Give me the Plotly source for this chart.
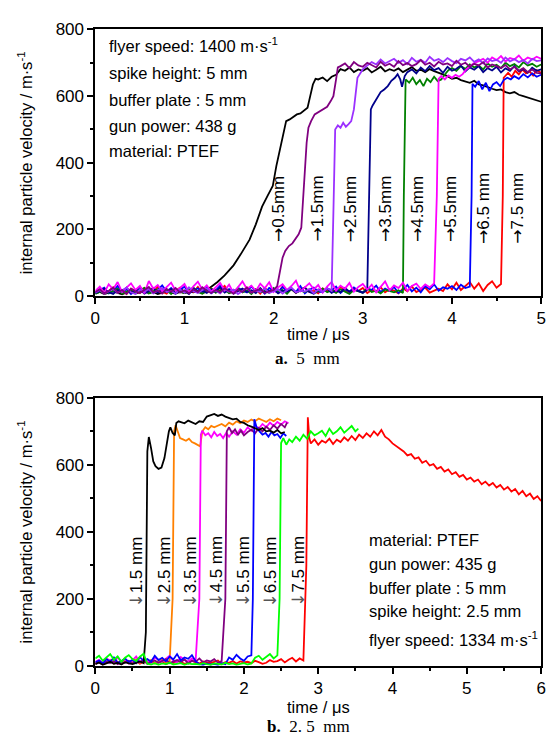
import plotly.graph_objects as go

W, H = 553, 745
DT = 0.05  # sampling step of the typed baseline / plateau readings (µs)

# ================= panel a: spike height 5 mm =================
a_black_base = [8,12,6,10,14,9,5,11,13,7,10,15,8,12,6,9,14,10,7,12,9,13,11,15,16]
a_black_rise_t = [1.25,1.3,1.37,1.45,1.55,1.63,1.73,1.8,1.87,1.93,1.99,2.03,2.07,2.11,2.14,2.18,2.22,2.26,2.3,2.34,2.38,2.41,2.44,2.47]
a_black_rise_v = [18,28,42,62,92,125,169,215,268,300,330,390,440,490,525,530,538,545,548,556,565,600,635,652]
a_black_plat_t0 = 2.5
a_black_plat_v = [650,656,645,658,664,681,676,686,672,680,676,684,671,679,688,674,681,676,683,672,
                  680,687,676,679,672,681,675,670,666,660,652,655,648,644,640,646,635,632,626,622,
                  618,620,612,608,612,604,600,596,590,586,583]

a_purple_base = [12,20,8,15,25,10,18,6,22,14,9,19,27,11,16,7,21,13,24,10,17,8,20,12,26,15,9,18,11,23,
                 14,7,19,12,25,10,16,21,9,14,18]
a_purple_rise_t = [2.04,2.07,2.1,2.13,2.17,2.21,2.25,2.28,2.31,2.33,2.35,2.37,2.39,2.42,2.46,2.5,2.55,2.6,2.64,2.67,2.7,2.72]
a_purple_rise_v = [30,75,115,135,150,158,172,185,205,300,390,460,505,525,545,552,560,568,585,600,650,686]
a_purple_plat_t0 = 2.75
a_purple_plat_v = [690,698,684,702,692,688,700,694,686,703,691,697,688,705,693,699,690,696,708,694,
                   700,689,703,695,698,690,706,694,700,688,697,692,702,686,695,690,684,693,680,688,
                   676,684,672,680,670,668]

a_violet_base = [10,18,7,14,22,9,16,25,11,6,19,13,21,8,17,24,12,15,7,20,10,26,14,9,18,23,11,16,8,21,
                 13,19,6,15,24,10,17,12,22,9,14,20,7,18,25,11,16,13,21,8,19,12,23,15]
a_violet_rise_t = [2.67,2.69,2.72,2.75,2.78,2.81,2.84,2.87,2.9,2.92,2.94,2.97]
a_violet_rise_v = [250,500,512,505,520,508,516,525,560,610,655,668]
a_violet_plat_t0 = 3.0
a_violet_plat_v = [680,692,702,695,710,698,705,712,700,708,696,715,703,709,700,718,706,711,702,714,
                   705,699,712,707,716,703,710,698,713,705,709,700,716,704,711,702,708,698,712,705,707]

a_navy_base = [8,15,22,11,6,18,13,25,9,16,20,7,14,24,10,17,12,21,8,19,15,6,23,11,16,9,20,13,26,10,
               18,7,14,22,12,17,9,24,11,15,20,8,16,13,21,10,18,25,12,7,19,14,22,9,17,11,24,13,20,16,10,18]
a_navy_rise_t = [3.07,3.09,3.11,3.13,3.16,3.2,3.24,3.28,3.32,3.36,3.39,3.42,3.44,3.47]
a_navy_rise_v = [300,560,572,580,592,612,620,630,646,655,666,650,628,660]
a_navy_plat_t0 = 3.5
a_navy_plat_v = [672,680,668,686,675,690,678,684,670,688,676,682,692,674,686,679,690,672,684,677,
                 688,671,683,676,690,674,681,670,685,676,680]

a_green_base = [6,12,18,9,15,22,7,13,19,10,16,24,8,14,20,11,17,6,21,13,9,18,25,12,7,15,22,10,16,19,
                8,14,23,11,17,6,20,12,15,9,24,13,18,7,21,10,16,12,19,8,14,22,11,17,9,20,13,6,18,15,
                10,23,12,16,8,19,14,11,17,9]
a_green_rise_t = [3.46,3.48,3.52,3.56,3.6,3.64,3.68,3.72,3.76,3.8,3.84,3.88,3.92,3.96]
a_green_rise_v = [300,650,640,655,636,648,630,652,642,658,645,650,665,678]
a_green_plat_t0 = 4.0
a_green_plat_v = [684,676,690,682,695,686,692,680,698,688,694,684,700,690,696,686,702,692,697,688,695]

a_magenta_base = [15,28,10,35,20,42,12,25,38,18,30,8,45,22,33,14,27,40,16,24,36,11,29,43,19,32,13,26,39,17,
                  34,9,28,44,21,31,15,37,23,41,12,26,35,18,30,46,14,25,38,20,33,10,28,42,16,31,22,39,13,27,
                  36,19,34,11,29,44,17,32,24,40,15,30,37,21,35,26,38]
a_magenta_rise_t = [3.83,3.85,3.88,3.92,3.96,4.0,4.04,4.08,4.12,4.16,4.2,4.24]
a_magenta_rise_v = [300,652,660,650,662,655,664,658,666,680,690,698]
a_magenta_plat_t0 = 4.3
a_magenta_plat_v = [705,712,700,716,708,720,704,714,710,722,706,716,710,718,712]

a_blue_base = [10,18,25,8,14,30,12,20,6,16,27,11,22,9,18,32,13,24,7,19,28,10,15,23,12,26,8,17,31,14,
               21,9,25,16,11,29,13,20,7,24,18,10,27,15,22,12,30,8,19,25,14,11,23,17,28,9,20,13,26,16,
               10,24,18,31,12,22,15,27,9,19,33,14,25,11,29,20,35,16,26,22,30,18,34,24,28]
a_blue_rise_t = [4.22,4.23,4.26,4.3,4.34,4.38,4.42,4.46,4.5,4.54,4.58,4.62,4.66]
a_blue_rise_v = [300,637,628,645,620,640,615,635,642,630,648,655,650]
a_blue_plat_t0 = 4.7
a_blue_plat_v = [660,652,666,656,668,658,664]

a_red_base = [12,20,8,15,26,10,18,6,22,14,9,24,17,11,28,13,7,21,16,25,10,19,12,27,8,15,23,11,18,30,
              9,14,22,16,26,12,20,7,24,13,17,10,28,15,21,9,19,25,12,16,8,23,14,20,11,27,17,10,22,15,
              24,9,18,13,26,11,20,16,8,23,14,29,12,19,25,10,17,22,15,35,20,40,18,30,42,22,38,15,33,44,25,36]
a_red_rise_t = [4.57,4.58,4.6,4.63,4.67,4.71,4.75,4.79,4.83,4.87,4.91,4.95,5.0]
a_red_rise_v = [300,655,662,670,658,676,665,680,668,674,662,678,670]

a_label_t = [2.04,2.485,2.85,3.24,3.60,3.97,4.35,4.73]
a_label_v = 262
a_labels = ["0.5mm","1.5mm","2.5mm","3.5mm","4.5mm","5.5mm","6.5 mm","7.5 mm"]

# ================= panel b: spike height 2.5 mm =================
b_black_base = [5,10,3,8,12,6,9,4,11,7,5,9,13,8]
b_black_rise_t = [0.68,0.7,0.72,0.75,0.78,0.81,0.85,0.89,0.93,0.96,0.99,1.01,1.04,1.07,1.09,1.12]
b_black_rise_v = [100,640,683,650,610,596,588,592,620,660,700,712,695,688,725,730]
b_black_plat_t0 = 1.15
b_black_plat_v = [728,724,732,726,722,730,728,744,748,752,746,750,744,740,736,738,728,725,718,714,
                  708,704,710,700,702,696,704,694,698]

b_orange_base = [8,14,6,11,18,9,13,7,16,10,12,20,8,15,11,17,9,14,19,10,13]
b_orange_rise_t = [1.04,1.06,1.08,1.11,1.14,1.18,1.22,1.26,1.3,1.34,1.38,1.41,1.44,1.48,1.52,1.56,1.6]
b_orange_rise_v = [200,700,718,695,680,676,672,678,668,664,660,655,700,712,706,716,712]
b_orange_plat_t0 = 1.65
b_orange_plat_v = [718,722,715,726,720,730,724,732,728,735,730,738,733,728,736,730,738,733]

b_magenta_base = [12,18,8,22,15,10,25,13,19,7,16,28,11,20,14,9,24,17,12,21,30,15,10,26,18,13,22,16]
b_magenta_rise_t = [1.4,1.42,1.44,1.48,1.52,1.56,1.6,1.64,1.68,1.72,1.76,1.8,1.85,1.9,1.95,2.0,2.05,2.1,
                    2.15,2.2,2.25,2.3,2.35,2.4,2.45,2.5,2.55,2.6]
b_magenta_rise_v = [200,690,702,688,694,682,698,686,692,680,695,684,700,690,706,696,712,702,718,708,
                    722,712,726,716,728,720,730,724]

b_purple_base = [6,10,4,12,8,14,5,11,9,15,7,13,10,18,6,12,16,9,14,20,8,13,17,11,19,7,15,12,22,10,
                 16,13,20,9,14]
b_purple_rise_t = [1.75,1.77,1.8,1.84,1.88,1.92,1.96,2.0,2.05,2.1,2.15,2.2,2.25,2.3,2.35,2.4,2.45,2.5,2.55,2.58]
b_purple_rise_v = [200,700,712,695,706,690,702,688,698,705,694,710,700,714,704,718,708,722,712,726]

b_blue_base = [10,16,7,20,12,25,9,14,22,11,18,8,26,15,
               20,12,30,17,24,13,28,19,35,16,25,21,32,14,
               5,3,7,4,6,3,8,5,
               25,18,33,22,15,28,31]
b_blue_rise_t = [2.12,2.14,2.17,2.21,2.25,2.29,2.33,2.37,2.41,2.45,2.49,2.53,2.57]
b_blue_rise_v = [200,736,712,700,690,695,684,698,688,692,680,694,686]

b_green_base = [22,30,15,26,35,18,28,12,24,32,20,14,27,36,
                6,4,8,3,7,5,9,4,6,8,3,7,5,6,4,8,5,3,7,6,4,9,5,7,3,6,8,4,7,
                24,30,18,28,35,22,31]
b_green_rise_t = [2.48,2.5,2.53,2.57,2.61,2.65,2.7,2.75,2.8,2.85,2.9,2.95,3.0,3.05,3.1,3.15,3.2,3.25,
                  3.3,3.35,3.4,3.45,3.5,3.54]
b_green_rise_v = [200,665,680,660,676,668,684,672,690,678,700,688,694,702,686,708,692,700,712,696,
                  706,716,700,708]

b_red_base = [6,12,4,9,15,7,11,5,13,8,10,14,6,12,9,16,7,11,13,5,10,8,14,12,6,9,15,11,7,13,
              10,8,12,16,6,11,9,14,7,13,10,12,8,15,11,6,9,17,12,14,20,10,18,24,13,22,16]
b_red_rise_t = [2.84,2.86,2.88]
b_red_rise_v = [300,742,680]
b_red_plat_t0 = 2.9
b_red_plat_v = [664,676,660,672,666,678,662,675,668,682,672,686,674,690,680,694,684,700,688,704,
                684,676,664,656,646,640,628,632,618,622,606,612,598,602,588,594,580,586,572,578,
                564,570,556,562,550,556,542,550,538,546,532,540,526,534,520,528,512,522,506,514,
                498,506,492]

b_label_t = [0.546,0.921,1.27,1.625,1.98,2.35,2.73]
b_label_v = 281
b_labels = ["1.5 mm","2.5 mm","3.5 mm","4.5 mm","5.5 mm","6.5 mm","7.5 mm"]


def build(base, rise_t, rise_v, plat_t0=None, plat_v=None):
    t = [round(i * DT, 4) for i in range(len(base))] + list(rise_t)
    v = list(base) + list(rise_v)
    if plat_v:
        t += [round(plat_t0 + i * DT, 4) for i in range(len(plat_v))]
        v += list(plat_v)
    return t, v


def px(x):
    return x / W


def py(y):
    return 1 - y / H


fig = go.Figure()
LW = 1.8

a_series = [
    ("#000000", a_black_base, a_black_rise_t, a_black_rise_v, a_black_plat_t0, a_black_plat_v),
    ("#FF0000", a_red_base, a_red_rise_t, a_red_rise_v, None, None),
    ("#0000FF", a_blue_base, a_blue_rise_t, a_blue_rise_v, a_blue_plat_t0, a_blue_plat_v),
    ("#008000", a_green_base, a_green_rise_t, a_green_rise_v, a_green_plat_t0, a_green_plat_v),
    ("#00008B", a_navy_base, a_navy_rise_t, a_navy_rise_v, a_navy_plat_t0, a_navy_plat_v),
    ("#FF00FF", a_magenta_base, a_magenta_rise_t, a_magenta_rise_v, a_magenta_plat_t0, a_magenta_plat_v),
    ("#9B30FF", a_violet_base, a_violet_rise_t, a_violet_rise_v, a_violet_plat_t0, a_violet_plat_v),
    ("#800080", a_purple_base, a_purple_rise_t, a_purple_rise_v, a_purple_plat_t0, a_purple_plat_v),
]
for col, b, rt, rv, p0, pv in a_series:
    t, v = build(b, rt, rv, p0, pv)
    fig.add_trace(go.Scatter(x=t, y=v, mode="lines", line=dict(color=col, width=LW),
                             xaxis="x", yaxis="y", showlegend=False, hoverinfo="skip"))

b_series = [
    ("#FF0000", b_red_base, b_red_rise_t, b_red_rise_v, b_red_plat_t0, b_red_plat_v),
    ("#FF8000", b_orange_base, b_orange_rise_t, b_orange_rise_v, b_orange_plat_t0, b_orange_plat_v),
    ("#FF00FF", b_magenta_base, b_magenta_rise_t, b_magenta_rise_v, None, None),
    ("#800080", b_purple_base, b_purple_rise_t, b_purple_rise_v, None, None),
    ("#0000FF", b_blue_base, b_blue_rise_t, b_blue_rise_v, None, None),
    ("#000000", b_black_base, b_black_rise_t, b_black_rise_v, b_black_plat_t0, b_black_plat_v),
    ("#00FF00", b_green_base, b_green_rise_t, b_green_rise_v, None, None),
]
for col, b, rt, rv, p0, pv in b_series:
    t, v = build(b, rt, rv, p0, pv)
    fig.add_trace(go.Scatter(x=t, y=v, mode="lines", line=dict(color=col, width=LW),
                             xaxis="x2", yaxis="y2", showlegend=False, hoverinfo="skip"))

FONT = "Liberation Sans, Arial, sans-serif"
tickfont = dict(family=FONT, size=17, color="black")

def xax(rng, dom, anchor):
    return dict(range=rng, domain=dom, anchor=anchor, dtick=1, tick0=0, ticks="outside",
                ticklen=6, tickwidth=1.5, tickcolor="black", showline=True, linecolor="black",
                linewidth=1.8, mirror=True, showgrid=False, zeroline=False, tickfont=tickfont,
                minor=dict(dtick=0.5, ticks="outside", ticklen=3.5, tickwidth=1.5, tickcolor="black",
                           showgrid=False))

def yax(dom, anchor):
    return dict(range=[0, 800], domain=dom, anchor=anchor, dtick=200, tick0=0, ticks="outside",
                ticklen=6, tickwidth=1.5, tickcolor="black", showline=True, linecolor="black",
                linewidth=1.8, mirror=True, showgrid=False, zeroline=False, tickfont=tickfont,
                minor=dict(dtick=100, ticks="outside", ticklen=3.5, tickwidth=1.5, tickcolor="black",
                           showgrid=False))

xd = [px(92), px(546)]
fig.update_layout(
    width=W, height=H, margin=dict(l=0, r=0, t=0, b=0),
    paper_bgcolor="white", plot_bgcolor="white",
    xaxis=xax([0, 5], xd, "y"),
    yaxis=yax([py(294.5), py(21)], "x"),
    xaxis2=xax([0, 6], xd, "y2"),
    yaxis2=yax([py(674), py(399)], "x2"),
)

ann = []
tf = dict(family=FONT, size=16.5, color="black")
lf = dict(family=FONT, size=17, color="black")
ARW = "font-family:DejaVu Sans"
for t, lab in zip(a_label_t, a_labels):
    ann.append(dict(x=t, y=a_label_v, xref="x", yref="y",
                    text="<span style='" + ARW + "'>→</span>" + lab, textangle=-90,
                    showarrow=False, font=lf, xanchor="center", yanchor="middle"))
for t, lab in zip(b_label_t, b_labels):
    ann.append(dict(x=t, y=b_label_v, xref="x2", yref="y2",
                    text="<span style='" + ARW + ";color:#555555'>↓</span>" + lab, textangle=-90,
                    showarrow=False, font=lf, xanchor="center", yanchor="middle"))

a_info = ["flyer speed: 1400 m·s<sup>-1</sup>", "spike height: 5 mm", "buffer plate : 5 mm",
          "gun power: 438 g", "material: PTEF"]
a_info_y = [37, 66, 93, 120, 146]
for s, yy in zip(a_info, a_info_y):
    ann.append(dict(x=px(104), y=py(yy), xref="paper", yref="paper", text=s, showarrow=False,
                    font=tf, xanchor="left", yanchor="middle"))
b_info = ["material: PTEF", "gun power: 435 g", "buffer plate : 5 mm", "spike height: 2.5 mm",
          "flyer speed: 1334 m·s<sup>-1</sup>"]
b_info_y = [545, 570, 594, 618, 647]
for s, yy in zip(b_info, b_info_y):
    ann.append(dict(x=px(369), y=py(yy), xref="paper", yref="paper", text=s, showarrow=False,
                    font=tf, xanchor="left", yanchor="middle"))

ytitle = "internal particle velocity / m·s<sup>-1</sup>"
for yc in [(21 + 294.5) / 2, (399 + 674) / 2]:
    ann.append(dict(x=px(20), y=py(yc), xref="paper", yref="paper", text=ytitle, textangle=-90,
                    showarrow=False, font=tf, xanchor="center", yanchor="middle"))
for yc in [334, 716]:
    ann.append(dict(x=px(319), y=py(yc), xref="paper", yref="paper", text="time / μs",
                    showarrow=False, font=tf, xanchor="center", yanchor="middle"))

cf = dict(family="Liberation Serif, DejaVu Serif, serif", size=17, color="black")
ann.append(dict(x=px(308), y=py(359), xref="paper", yref="paper",
                text="<b>a.</b>\u00a0\u00a05\u00a0\u00a0mm", showarrow=False, font=cf,
                xanchor="center", yanchor="middle"))
ann.append(dict(x=px(309), y=py(736), xref="paper", yref="paper",
                text="<b>b.</b>\u00a0\u00a02.\u00a05\u00a0\u00a0mm", showarrow=False, font=cf,
                xanchor="center", yanchor="middle"))

fig.update_layout(annotations=ann)
fig.write_html("out.html")
